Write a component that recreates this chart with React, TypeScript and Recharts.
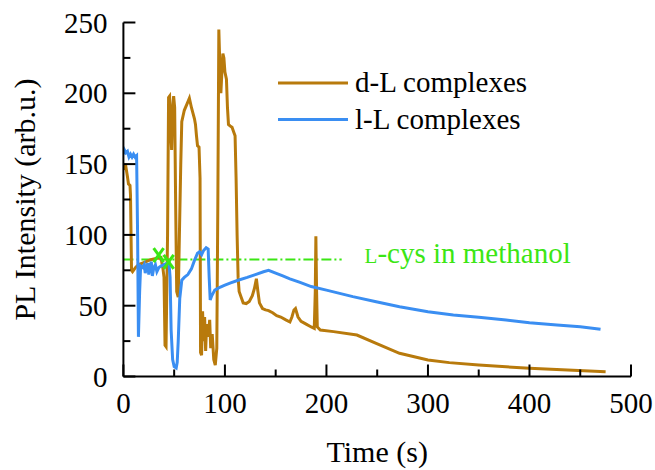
import {
  ComposedChart,
  Line,
  Scatter,
  XAxis,
  YAxis,
  ReferenceLine,
  ReferenceDot,
} from 'recharts';

// d-L complexes (brown)
const dlTimes = [
  0, 2, 4, 5, 6.5, 7, 8, 9, 12, 15, 20, 27, 33, 37, 38, 39, 40, 41, 42, 43.5, 44.5, 45.5, 46.5, 47.5,
  48.5, 49.5, 50.5, 51.5, 52.5, 54, 56.5, 57.5, 60, 63, 65, 67, 68.5, 70, 71, 72, 73, 74.5, 75.5, 76,
  77, 78, 79, 80, 81, 82, 83.5, 85, 86, 87.5, 89, 90.5, 92, 93, 94, 95, 96, 97, 98, 99, 100, 101.5,
  102.5, 103.5, 105, 107, 109, 110, 111, 112, 113, 114, 116, 118, 121, 124, 127, 129, 131, 132.5, 134,
  137, 140, 143, 147, 151, 155, 160, 164, 166, 168, 169.5, 172, 175, 180, 185, 188, 189, 189.6, 190.3,
  191, 194, 207, 230, 249, 272, 300, 321, 350, 400, 475,
];
const dlValues = [
  146, 150, 141, 136, 135, 128, 75, 74, 77, 79, 80.5, 82.5, 83.5, 84, 80, 76, 70, 22, 21, 100, 197,
  198, 175, 160, 190, 198, 190, 120, 60, 56, 150, 180, 188, 193, 196.5, 190, 186, 182, 178, 170, 163,
  162, 140, 17, 15, 46, 25, 42, 18, 37, 28, 40, 20, 30, 12, 8, 20, 120, 245, 220, 200, 215, 228, 225,
  215, 210, 190, 178, 177, 176, 172, 170, 140, 100, 70, 60, 56, 52, 51.5, 53, 57, 62, 69, 60, 52, 48,
  47, 46.5, 45, 43, 42, 40, 38.5, 42, 47, 48, 42, 39, 37, 35, 34, 60, 99, 60, 35, 32.8, 31.7, 29.3,
  23.4, 16.4, 11.6, 9.8, 8.1, 5.8, 3.4,
];

// l-L complexes (blue)
const llTimes = [
  0, 1, 2.5, 4, 5.5, 7, 8.5, 10, 11.5, 13, 14, 14.8, 16, 17, 19, 20.5, 21.5, 23, 24, 25, 26, 27.5,
  28.5, 30, 31.5, 33, 35, 37, 40, 43, 45, 46, 47, 48.5, 50, 52, 53, 54, 55.5, 57.5, 60, 63.5, 67, 70,
  73, 75, 77, 79, 81.5, 83.5, 84.5, 85.5, 87, 90, 95, 100, 105, 113, 122, 130, 138, 143, 150, 157,
  164, 174, 185, 200, 226, 249, 272, 300, 325, 350, 377, 400, 427, 450, 470,
];
const llValues = [
  157, 160, 158, 159, 155, 157, 155, 157, 155, 156, 100, 28, 60, 78, 77, 79, 73, 78, 80, 72, 78, 81,
  71, 77, 79, 74, 77, 78, 79, 80, 79, 70, 33, 12, 7, 6, 10, 25, 55, 68, 70, 72, 76, 82, 87, 88, 86,
  89, 91, 90, 70, 54, 57, 61, 63, 64.5, 66, 68, 70, 72, 74, 75, 73, 71, 69, 66.5, 63.5, 61, 56.4,
  52.8, 49.3, 45.8, 43.4, 41.8, 39.9, 38, 36.4, 35.2, 33.3,
];

// L-cys in methanol reference
const refLevel = 82.7;
const refEnd = 215;
const markTimes = [34.7, 44.6];
const markValues = [85.8, 81];

const xTicks = [0, 50, 100, 150, 200, 250, 300, 350, 400, 450, 500];
const yTicks = [0, 25, 50, 75, 100, 125, 150, 175, 200, 225, 250];

const SERIES = [
  { name: 'd-L complexes', color: '#b87a0c' },
  { name: 'l-L complexes', color: '#3a8ef2' },
];
const GREEN = '#3be614';
const FONT = '"Liberation Serif", "Times New Roman", serif';

const dlData = dlTimes.map((t, i) => ({ t, v: dlValues[i] }));
const llData = llTimes.map((t, i) => ({ t, v: llValues[i] }));
const markData = markTimes.map((t, i) => ({ t, v: markValues[i] }));

function BottomTick({ x, y, payload }: any) {
  const major = payload.value % 100 === 0;
  return (
    <g>
      <line x1={x} y1={y} x2={x} y2={y - (major ? 12 : 7)} stroke="#000" strokeWidth={2} />
      {major && (
        <text x={x} y={y + 36.5} textAnchor="middle" fontSize={29} fontFamily={FONT} fill="#000">
          {payload.value}
        </text>
      )}
    </g>
  );
}

function TopTick({ x, y, payload }: any) {
  const major = payload.value % 100 === 0;
  return <line x1={x} y1={y} x2={x} y2={y + (major ? 12 : 7)} stroke="#000" strokeWidth={2} />;
}

function LeftTick({ x, y, payload }: any) {
  const major = payload.value % 50 === 0;
  return (
    <g>
      <line x1={x} y1={y} x2={x + (major ? 12 : 7)} y2={y} stroke="#000" strokeWidth={2} />
      {major && (
        <text x={x - 16} y={y + 10} textAnchor="end" fontSize={29} fontFamily={FONT} fill="#000">
          {payload.value}
        </text>
      )}
    </g>
  );
}

function RightTick({ x, y, payload }: any) {
  const major = payload.value % 50 === 0;
  return <line x1={x} y1={y} x2={x - (major ? 12 : 7)} y2={y} stroke="#000" strokeWidth={2} />;
}

function XMark({ cx, cy }: any) {
  return (
    <g stroke={GREEN} strokeWidth={3}>
      <line x1={cx - 5} y1={cy - 7} x2={cx + 5} y2={cy + 7} />
      <line x1={cx + 5} y1={cy - 7} x2={cx - 5} y2={cy + 7} />
    </g>
  );
}

function RefText({ cx, cy }: any) {
  return (
    <text x={cx} y={cy + 4} fontSize={29} fontFamily={FONT} fill={GREEN}>
      <tspan fontSize={21}>L</tspan>
      <tspan>-cys in methanol</tspan>
    </text>
  );
}

function YTitle({ viewBox }: any) {
  const cy = viewBox.y + viewBox.height / 2;
  return (
    <text
      x={35}
      y={cy}
      transform={`rotate(-90, 35, ${cy})`}
      textAnchor="middle"
      fontSize={30}
      fontFamily={FONT}
      fill="#000"
    >
      PL Intensity (arb.u.)
    </text>
  );
}

function XTitle({ viewBox }: any) {
  return (
    <text
      x={viewBox.x + viewBox.width / 2}
      y={462}
      textAnchor="middle"
      fontSize={30}
      fontFamily={FONT}
      fill="#000"
    >
      Time (s)
    </text>
  );
}

function LegendBox() {
  return (
    <svg width={260} height={80} style={{ position: 'absolute', left: 278, top: 64 }}>
      {SERIES.map((s, i) => (
        <g key={s.name}>
          <line x1={0} y1={19 + i * 36.6} x2={70} y2={19 + i * 36.6} stroke={s.color} strokeWidth={3} />
          <text x={77} y={28 + i * 36.6} fontSize={29} fontFamily={FONT} fill="#000">
            {s.name}
          </text>
        </g>
      ))}
    </svg>
  );
}

export default function App() {
  return (
    <div style={{ position: 'absolute', left: 0, top: 0, width: 655, height: 470, background: '#fff' }}>
      <ComposedChart width={655} height={470} margin={{ top: 22.5, right: 24, bottom: 0, left: 0 }}>
        <XAxis
          xAxisId={0}
          dataKey="t"
          type="number"
          domain={[0, 500]}
          ticks={xTicks}
          interval={0}
          height={93.5}
          tickSize={0}
          tickMargin={0}
          tickLine={false}
          axisLine={{ stroke: '#000', strokeWidth: 2 }}
          tick={<BottomTick />}
          allowDataOverflow
          label={{ content: <XTitle /> }}
        />
        <XAxis
          xAxisId="top"
          dataKey="t"
          type="number"
          orientation="top"
          domain={[0, 500]}
          ticks={xTicks}
          interval={0}
          height={0}
          tickSize={0}
          tickMargin={0}
          tickLine={false}
          axisLine={{ stroke: '#000', strokeWidth: 2 }}
          tick={<TopTick />}
          allowDataOverflow
        />
        <YAxis
          yAxisId={0}
          type="number"
          domain={[0, 250]}
          ticks={yTicks}
          interval={0}
          width={123.4}
          tickSize={0}
          tickMargin={0}
          tickLine={false}
          axisLine={{ stroke: '#000', strokeWidth: 2 }}
          tick={<LeftTick />}
          allowDataOverflow
          label={{ content: <YTitle /> }}
        />
        <YAxis
          yAxisId="right"
          type="number"
          orientation="right"
          domain={[0, 250]}
          ticks={yTicks}
          interval={0}
          width={0}
          tickSize={0}
          tickMargin={0}
          tickLine={false}
          axisLine={{ stroke: '#000', strokeWidth: 2 }}
          tick={<RightTick />}
          allowDataOverflow
        />
        <ReferenceLine
          segment={[
            { x: 0, y: refLevel },
            { x: refEnd, y: refLevel },
          ]}
          stroke={GREEN}
          strokeWidth={2}
          strokeDasharray="10 3 2 3"
        />
        <ReferenceDot x={237.6} y={refLevel} r={0} shape={<RefText />} />
        <Line
          data={dlData}
          dataKey="v"
          type="linear"
          stroke={SERIES[0].color}
          strokeWidth={3}
          dot={false}
          isAnimationActive={false}
        />
        <Line
          data={llData}
          dataKey="v"
          type="linear"
          stroke={SERIES[1].color}
          strokeWidth={3}
          dot={false}
          isAnimationActive={false}
        />
        <Scatter data={markData} dataKey="v" shape={<XMark />} isAnimationActive={false} />
      </ComposedChart>
      <LegendBox />
    </div>
  );
}
